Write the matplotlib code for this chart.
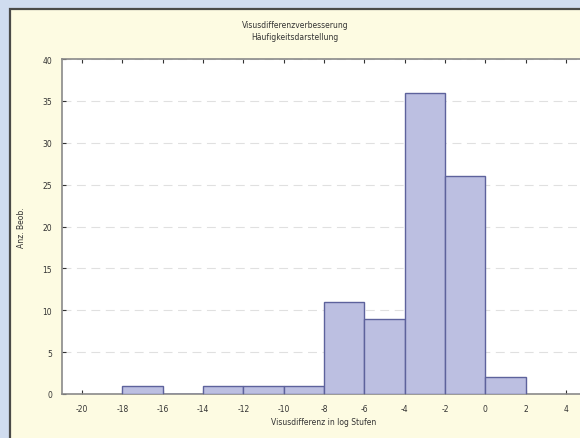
import numpy as np
import matplotlib.pyplot as plt
from matplotlib.patches import Rectangle

plt.rcParams['axes.unicode_minus'] = False

# histogram data: bin edges and counts
bin_edges = [-18, -16, -14, -12, -10, -8, -6, -4, -2, 0, 2]
counts = [1, 0, 1, 1, 1, 11, 9, 36, 26, 2]
x_ticks = [-20, -18, -16, -14, -12, -10, -8, -6, -4, -2, 0, 2, 4]
y_ticks = [0, 5, 10, 15, 20, 25, 30, 35, 40]

title_lines = ["Visusdifferenzverbesserung", "Häufigkeitsdarstellung"]
x_label = "Visusdifferenz in log Stufen"
y_label = "Anz. Beob."

W, H = 580, 439
fig = plt.figure(figsize=(W / 100, H / 100), dpi=100)
fig.patch.set_facecolor('#d0dcef')

# yellow panel with dark frame on left/top (cut off at right and bottom)
panel = Rectangle((10 / W, -0.05), 1.1, 1.05 - 10 / H, transform=fig.transFigure,
                  facecolor='#fdfbe2', edgecolor='#4a4a48', linewidth=1.6)
fig.add_artist(panel)
panel.set_zorder(-5)

ax = fig.add_axes([62 / W, 44 / H, 524 / W, 335 / H])
ax.set_zorder(2)
ax.set_facecolor('white')

widths = np.diff(bin_edges)
ax.bar(bin_edges[:-1], counts, width=widths, align='edge',
       color='#bcbfe1', edgecolor='#5d629c', linewidth=1.0, zorder=3)

ax.set_xlim(-21, 5)
ax.set_ylim(0, 40)
ax.set_xticks(x_ticks)
ax.set_yticks(y_ticks)
ax.yaxis.grid(True, linestyle=(0, (8, 5)), color='#e0e0e0', linewidth=0.8, zorder=0)
ax.set_axisbelow(True)
ax.tick_params(direction='in', length=3, labelsize=5.5, colors='#333333',
               top=True, right=True, pad=7)
for s in ax.spines.values():
    s.set_color('#8a8a8a')
    s.set_linewidth(1.2)

ax.set_xlabel(x_label, fontsize=5.5, color='#333333', labelpad=3)
ax.set_ylabel(y_label, fontsize=5.5, color='#333333', labelpad=12)

fig.text(295 / W, 1 - 26 / H, title_lines[0], ha='center', va='center',
         fontsize=5.5, color='#333333', zorder=3)
fig.text(295 / W, 1 - 38 / H, title_lines[1], ha='center', va='center',
         fontsize=5.5, color='#333333', zorder=3)

fig.savefig('out.png', dpi=100, facecolor=fig.get_facecolor())
